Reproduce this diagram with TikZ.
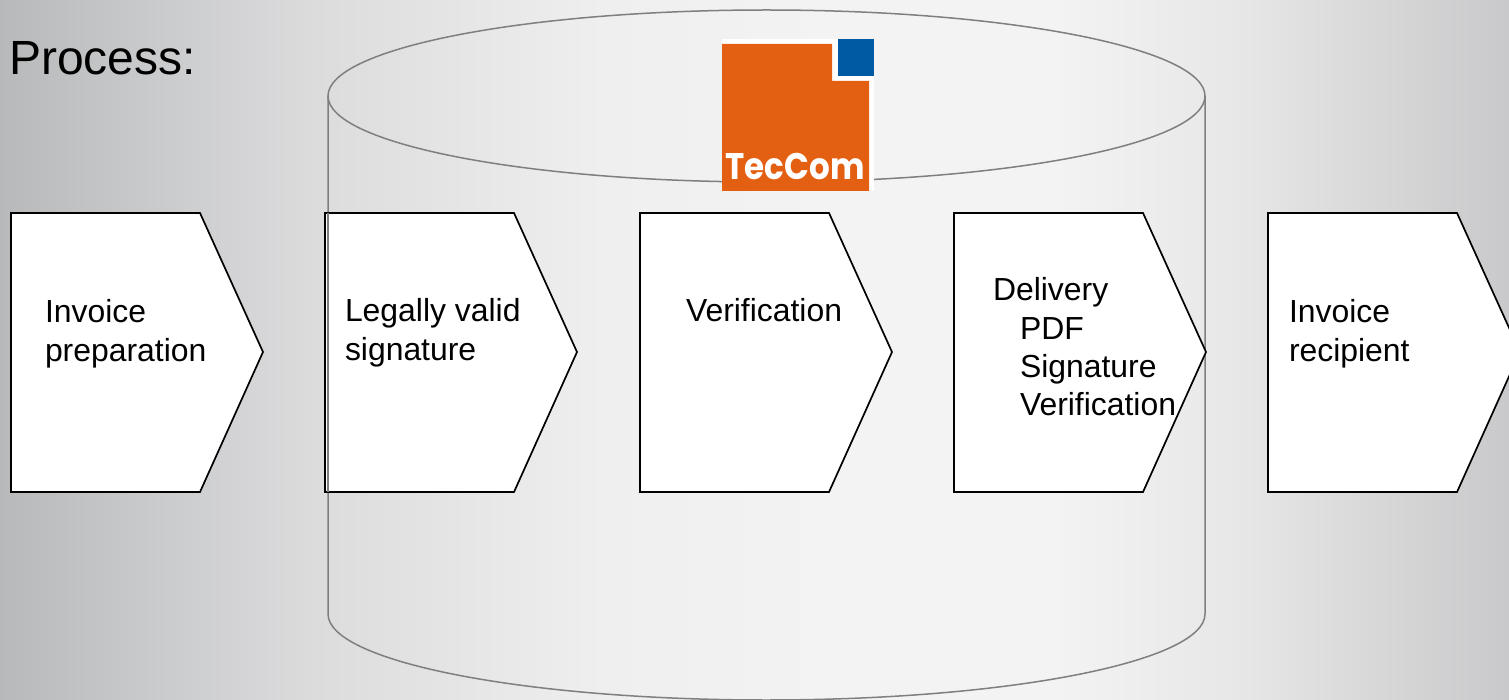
\documentclass[tikz,border=0pt]{standalone}
\usepackage{graphicx}
\usepackage{fontspec}
\setmainfont{Liberation Sans}
\newfontfamily\logofont{Poppins}
\definecolor{cyl}{HTML}{7F7F7F}
\definecolor{tecorange}{HTML}{E36012}
\definecolor{tecblue}{HTML}{0059A3}
\definecolor{bga}{HTML}{B8B9BB}
\definecolor{bgb}{HTML}{C9CACC}
\definecolor{bgc}{HTML}{DCDCDD}
\definecolor{bgd}{HTML}{EFEFEF}
\definecolor{bge}{HTML}{F3F3F3}
\definecolor{bgf}{HTML}{E7E7E7}
\definecolor{bgg}{HTML}{C9C9CB}
\pgfdeclarehorizontalshading{bgshade}{100bp}{
  color(0bp)=(bga);
  color(25bp)=(bga);
  color(30bp)=(bgb);
  color(35.5bp)=(bgc);
  color(45bp)=(bgd);
  color(52.5bp)=(bge);
  color(60bp)=(bge);
  color(66bp)=(bgf);
  color(75bp)=(bgg);
  color(100bp)=(bgg)}
\tikzset{
  x=1pt,y=-1pt,
  chevron/.style={draw=black,fill=white,line width=1.7pt,line join=miter},
  cylline/.style={draw=cyl,line width=1.5pt},
  lbl/.style={anchor=base west,align=left,inner sep=0pt,outer sep=0pt,font=\fontsize{31.9}{38}\selectfont},
}
\begin{document}
\begin{tikzpicture}
\useasboundingbox (0,0) rectangle (1509,700);
\clip (0,0) rectangle (1509,700);
\shade[shading=bgshade,shading angle=0] (0,0) rectangle (1509,700);
% cylinder
\draw[cylline] (328,96) -- (328,614) arc[start angle=180,end angle=0,x radius=438.5,y radius=86] -- (1205,96);
\draw[cylline] (766.5,96) ellipse[x radius=438.5,y radius=86];
% logo
\fill[white] (722,39) rectangle (874,191);
\fill[tecorange] (722,44) -- (832,44) -- (832,81) -- (869,81) -- (869,191) -- (722,191) -- cycle;
\fill[tecblue] (838,39) rectangle (874,76);
\node[anchor=base,inner sep=0pt,text=white,font=\fontsize{37}{37}\logofont\bfseries] (logo) at (795,180) {\scalebox{.88}[1]{TecCom}};
% chevrons
\foreach \n/\x in {a/11,b/325,c/640,d/954,e/1268}{
  \draw[chevron] (\x,213) -- ++(189,0) -- ++(63,139) -- ++(-63,140) -- ++(-189,0) -- cycle;
}
\draw[cylline] (328,213) -- (328,492);
\node[anchor=base west,inner sep=0pt,font=\fontsize{48}{48}\selectfont] (title) at (9,74.5) {Process:};
\node[lbl] (t1) at (45,323) {Invoice};
\node[lbl] (t1b) at (45,361) {preparation};
\node[lbl] (t2) at (345,322) {Legally valid};
\node[lbl] (t2b) at (345,360) {signature};
\node[lbl] (t3) at (686,322) {Verification};
\node[lbl] (t4) at (993,301) {Delivery};
\node[lbl] (t4b) at (1020,339) {PDF};
\node[lbl] (t4c) at (1020,377) {Signature};
\node[lbl] (t4d) at (1020,415) {Verification};
\node[lbl] (t5) at (1289,323) {Invoice};
\node[lbl] (t5b) at (1289,361) {recipient};
\end{tikzpicture}
\end{document}
